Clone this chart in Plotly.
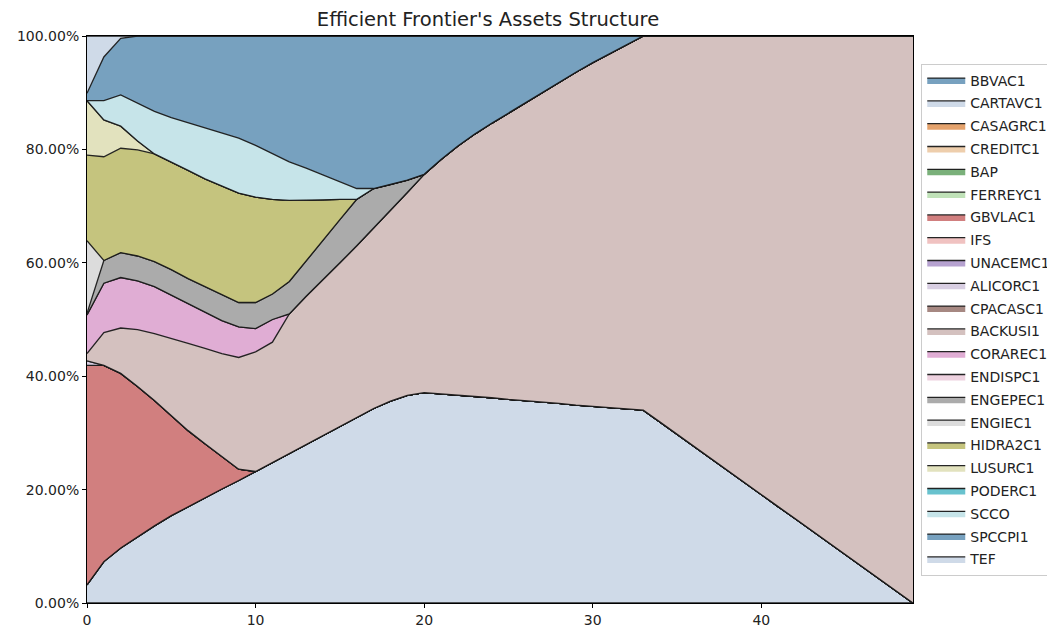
import plotly.graph_objects as go

x = list(range(50))

assets = ["BBVAC1", "CARTAVC1", "CASAGRC1", "CREDITC1", "BAP", "FERREYC1", "GBVLAC1",
          "IFS", "UNACEMC1", "ALICORC1", "CPACASC1", "BACKUSI1", "CORAREC1", "ENDISPC1",
          "ENGEPEC1", "ENGIEC1", "HIDRA2C1", "LUSURC1", "PODERC1", "SCCO", "SPCCPI1", "TEF"]

BBVAC1 = [0.0] * 50
CARTAVC1 = [3.2, 7.3, 9.7, 11.7, 13.6, 15.4, 17.0, 18.6, 20.1, 21.6,
            23.2, 24.8, 26.4, 28.0, 29.6, 31.2, 32.8, 34.3, 35.6, 36.6,
            37.1, 36.9, 36.6, 36.4, 36.2, 35.9, 35.7, 35.4, 35.2, 34.9,
            34.7, 34.5, 34.2, 34.0, 31.9, 29.75, 27.6, 25.5, 23.4, 21.25,
            19.1, 17.0, 14.9, 12.75, 10.6, 8.5, 6.4, 4.25, 2.1, 0.0]
CASAGRC1 = [0.0] * 50
CREDITC1 = [0.0] * 50
BAP = [0.0] * 50
FERREYC1 = [0.0] * 50
GBVLAC1 = [38.7, 34.6, 30.8, 26.5, 22.1, 17.7, 13.4, 9.5, 5.7, 2.0] + [0.0] * 40
IFS = [0.0] * 50
UNACEMC1 = [0.0] * 50
ALICORC1 = [0.8] + [0.0] * 49
CPACASC1 = [0.0] * 50
BACKUSI1 = [1.3, 5.8, 8.0, 10.0, 11.8, 13.6, 15.4, 16.8, 18.2, 19.7,
            21.1, 21.2, 24.6, 26.1, 27.4, 28.8, 30.2, 31.8, 33.6, 35.8,
            38.5, 41.3, 44.0, 46.3, 48.4, 50.5, 52.6, 54.7, 56.7, 58.7,
            60.6, 62.4, 64.3, 66.0, 68.1, 70.25, 72.4, 74.5, 76.6, 78.75,
            80.9, 83.0, 85.1, 87.25, 89.4, 91.5, 93.6, 95.75, 97.9, 100.0]
CORAREC1 = [6.8, 8.7, 8.9, 8.6, 8.3, 7.6, 7.0, 6.3, 5.8, 5.4, 4.1, 4.0] + [0.0] * 38
ENDISPC1 = [0.0] * 50
ENGEPEC1 = [0.3, 4.0, 4.4, 4.4, 4.4, 4.5, 4.4, 4.6, 4.5, 4.3,
            4.6, 4.5, 5.7, 6.3, 7.0, 7.6, 8.2, 7.0, 4.6, 2.2] + [0.0] * 30
ENGIEC1 = [12.8] + [0.0] * 49
HIDRA2C1 = [15.1, 18.3, 18.4, 18.7, 19.0, 19.0, 19.1, 19.0, 19.3, 19.3,
            18.6, 16.7, 14.3, 10.6, 7.1, 3.6] + [0.0] * 34
LUSURC1 = [9.6, 6.5, 3.9, 1.6] + [0.0] * 46
PODERC1 = [0.0] * 50
SCCO = [0.0, 3.4, 5.5, 6.7, 7.5, 7.8, 8.4, 9.1, 9.3, 9.7,
        9.1, 8.1, 6.8, 5.7, 4.4, 3.0, 1.9] + [0.0] * 33
SPCCPI1 = [1.3, 7.7, 10.0, 11.8, 13.3, 14.4, 15.3, 16.1, 17.1, 18.0,
           19.3, 20.7, 22.2, 23.3, 24.5, 25.8, 26.9, 26.9, 26.2, 25.4,
           24.4, 21.8, 19.4, 17.3, 15.4, 13.6, 11.7, 9.9, 8.1, 6.4,
           4.7, 3.1, 1.5] + [0.0] * 17
TEF = [10.1, 3.7, 0.4] + [0.0] * 47

values = {
    "BBVAC1": BBVAC1, "CARTAVC1": CARTAVC1, "CASAGRC1": CASAGRC1, "CREDITC1": CREDITC1,
    "BAP": BAP, "FERREYC1": FERREYC1, "GBVLAC1": GBVLAC1, "IFS": IFS,
    "UNACEMC1": UNACEMC1, "ALICORC1": ALICORC1, "CPACASC1": CPACASC1,
    "BACKUSI1": BACKUSI1, "CORAREC1": CORAREC1, "ENDISPC1": ENDISPC1,
    "ENGEPEC1": ENGEPEC1, "ENGIEC1": ENGIEC1, "HIDRA2C1": HIDRA2C1,
    "LUSURC1": LUSURC1, "PODERC1": PODERC1, "SCCO": SCCO, "SPCCPI1": SPCCPI1, "TEF": TEF,
}

colors = {
    "BBVAC1": "rgb(119,161,191)", "CARTAVC1": "rgb(207,218,232)",
    "CASAGRC1": "rgb(228,162,108)", "CREDITC1": "rgb(238,206,172)",
    "BAP": "rgb(122,176,122)", "FERREYC1": "rgb(192,226,184)",
    "GBVLAC1": "rgb(209,127,127)", "IFS": "rgb(240,194,193)",
    "UNACEMC1": "rgb(182,162,208)", "ALICORC1": "rgb(216,206,226)",
    "CPACASC1": "rgb(166,136,130)", "BACKUSI1": "rgb(212,193,191)",
    "CORAREC1": "rgb(224,173,212)", "ENDISPC1": "rgb(238,210,224)",
    "ENGEPEC1": "rgb(171,171,171)", "ENGIEC1": "rgb(220,220,220)",
    "HIDRA2C1": "rgb(197,196,126)", "LUSURC1": "rgb(226,226,190)",
    "PODERC1": "rgb(104,194,206)", "SCCO": "rgb(198,228,233)",
    "SPCCPI1": "rgb(119,161,191)", "TEF": "rgb(207,218,232)",
}

fig = go.Figure()
for name in assets:
    fig.add_trace(go.Scatter(
        x=x, y=[v / 100 for v in values[name]], name=name, mode="lines",
        stackgroup="one", legendgroup=name,
        line=dict(color="rgba(25,25,25,0.95)", width=1.3),
        fillcolor=colors[name], hoverinfo="skip",
    ))

font = "DejaVu Sans"
axis_common = dict(
    showline=True, linecolor="black", linewidth=1, mirror=True,
    ticks="outside", ticklen=4, tickcolor="black",
    showgrid=True, gridcolor="rgba(150,150,150,0.6)", griddash="dot", gridwidth=1,
    zeroline=False, automargin=False,
    tickfont=dict(family=font, size=14, color="#222"),
)
W, H = 1047, 620
fig.update_layout(
    width=W, height=H,
    margin=dict(l=79, r=142, t=28, b=25, autoexpand=False),
    paper_bgcolor="white", plot_bgcolor="white",
    title=dict(text="Efficient Frontier's Assets Structure", x=480 / W, xanchor="center",
               xref="container", yref="container",
               y=1 - 11 / H, yanchor="middle", automargin=False,
               font=dict(family=font, size=19.5, color="#222")),
    xaxis=dict(range=[0, 49], tickvals=[0, 10, 20, 30, 40], **axis_common),
    yaxis=dict(range=[0, 1], tickvals=[0, 0.2, 0.4, 0.6, 0.8, 1.0], tickformat=".2%", **axis_common),
    legend=dict(x=1.01, y=0.5, xanchor="left", yanchor="middle",
                traceorder="grouped", tracegroupgap=1.6, itemwidth=38,
                bordercolor="#cccccc", borderwidth=1, bgcolor="white",
                font=dict(family=font, size=14, color="#222")),
    showlegend=True,
)

fig.write_html("out.html")
